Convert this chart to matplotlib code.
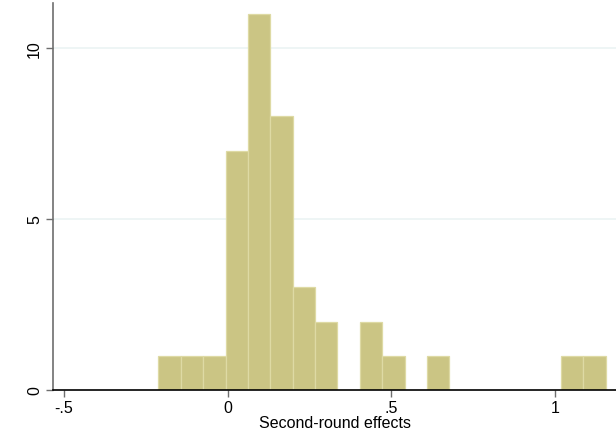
import numpy as np
import matplotlib.pyplot as plt

plt.rcParams['font.family'] = ['Liberation Sans', 'DejaVu Sans']

# histogram bins (20 bins of equal width)
bin_start = -0.211
bin_width = 0.0683
counts = [1, 1, 1, 7, 11, 8, 3, 2, 0, 2, 1, 0, 1, 0, 0, 0, 0, 0, 1, 1]
xticks = [-0.5, 0, 0.5, 1]
xtick_labels = ['-.5', '0', '.5', '1']
yticks = [0, 5, 10]

edges = bin_start + bin_width * np.arange(len(counts))
counts = np.array(counts)
keep = counts > 0

fig = plt.figure(figsize=(6.16, 4.39), dpi=100)
ax = fig.add_axes([0.0866, 0.1093, 0.9134, 0.8817])

for y in yticks[1:]:
    ax.axhline(y, color='#eaf2f3', lw=1.1, zorder=0)

ax.bar(edges[keep], counts[keep], width=bin_width, align='edge',
       color='#cbc584', edgecolor='#dedaa4', linewidth=0.9, zorder=2)

ax.set_xlim(-0.532, 1.186)
ax.set_ylim(0, 11.32)
ax.set_xticks(xticks)
ax.set_xticklabels(xtick_labels)
ax.set_yticks(yticks)
ax.set_yticklabels([str(v) for v in yticks], rotation=90, va='center')

for s in ['top', 'right']:
    ax.spines[s].set_visible(False)
ax.spines['left'].set_color('#6e6e6e')
ax.spines['left'].set_linewidth(1.2)
ax.spines['bottom'].set_color('black')
ax.spines['bottom'].set_linewidth(1.2)
ax.tick_params(axis='both', length=5, width=1, color='#6e6e6e', labelsize=11.5, pad=2)
ax.tick_params(axis='y', pad=3)

ax.set_xlabel('Second-round effects', fontsize=11.5, labelpad=0)

fig.savefig('out.png', dpi=100)
